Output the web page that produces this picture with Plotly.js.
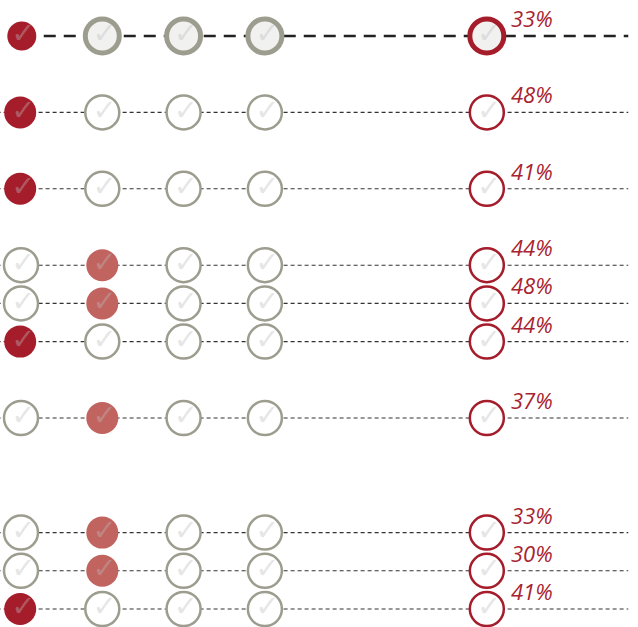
<!DOCTYPE html>
<html><head><meta charset="utf-8">
<script src="https://cdn.plot.ly/plotly-3.0.1.min.js"></script>
<style>html,body{margin:0;padding:0;background:#fff}#chart{width:638px;height:627px}</style>
</head><body><div id="chart"></div>
<script>
// Row positions (in row units, gaps included) and values
const rowY = [0, 2, 4, 6, 7, 8, 10, 13, 14, 15];
// which of the first two columns is selected (0 = first col dark, 1 = second col light)
const selected = [0, 0, 0, 1, 1, 0, 1, 1, 1, 0];
const pctLabels = ['33%', '48%', '41%', '44%', '48%', '44%', '37%', '33%', '30%', '41%'];
const colX = [0, 1, 2, 3, 5.73];

const DARK = '#a51c2b', LIGHT = '#c1635f', GREY = '#9d9d8f', TEXTRED = '#a8232f';

const traces = [];
// dashed lines
rowY.forEach((y, i) => {
  const top = i === 0;
  traces.push({
    type: 'scatter', mode: 'lines', hoverinfo: 'skip', showlegend: false,
    x: [top ? 0.28 : -0.3, 7.47], y: [y, y],
    line: {color: top ? '#222' : '#333', width: top ? 2.6 : 1.1, dash: top ? '12px,8px' : '4px,3px'}
  });
});

const dark = {x: [], y: [], s: []}, light = {x: [], y: [], s: []};
const grey = {x: [], y: [], w: [], f: []}, red = {x: [], y: [], w: [], f: []};
const checks = {x: [], y: []};
rowY.forEach((y, i) => {
  const top = i === 0;
  for (let c = 0; c < 4; c++) {
    checks.x.push(colX[c]); checks.y.push(y);
    if (c === 0 && selected[i] === 0) { dark.x.push(colX[c] + (top ? 0.01 : -0.01)); dark.y.push(y); dark.s.push(top ? 29 : 32); }
    else if (c === 1 && selected[i] === 1) { light.x.push(colX[c]); light.y.push(y); light.s.push(32); }
    else { grey.x.push(colX[c]); grey.y.push(y); grey.w.push(top ? 5 : 2.5); grey.f.push(top ? '#f1f1f0' : '#ffffff'); }
  }
  checks.x.push(colX[4]); checks.y.push(y);
  red.x.push(colX[4]); red.y.push(y); red.w.push(top ? 5 : 2.5); red.f.push(top ? '#f1f1f0' : '#ffffff');
});

traces.push({type: 'scatter', mode: 'markers', hoverinfo: 'skip', showlegend: false, x: grey.x, y: grey.y,
  marker: {size: 34, opacity: 1, color: grey.f, line: {color: GREY, width: grey.w}}});
traces.push({type: 'scatter', mode: 'markers', hoverinfo: 'skip', showlegend: false, x: red.x, y: red.y,
  marker: {size: 34, opacity: 1, color: red.f, line: {color: DARK, width: red.w}}});
traces.push({type: 'scatter', mode: 'markers', hoverinfo: 'skip', showlegend: false, x: dark.x, y: dark.y,
  marker: {size: dark.s, opacity: 1, color: DARK, line: {width: 0}}});
traces.push({type: 'scatter', mode: 'markers', hoverinfo: 'skip', showlegend: false, x: light.x, y: light.y,
  marker: {size: light.s, opacity: 1, color: LIGHT, line: {width: 0}}});
// faint check marks
traces.push({type: 'scatter', mode: 'text', hoverinfo: 'skip', showlegend: false,
  x: checks.x.map(v => v + 0.03), y: checks.y, text: checks.x.map(() => '✓'),
  textposition: 'middle center',
  textfont: {family: 'DejaVu Sans', size: 29, color: 'rgba(190,190,190,0.38)'}});

const annotations = rowY.map((y, i) => ({
  x: colX[4], y: y, xref: 'x', yref: 'y', text: '<i>' + pctLabels[i] + '</i>', showarrow: false,
  xanchor: 'left', yanchor: 'middle', xshift: 22, yshift: 18,
  font: {family: 'Open Sans', size: 22, color: TEXTRED}
}));

const layout = {
  width: 638, height: 627, margin: {l: 0, r: 0, t: 0, b: 0},
  paper_bgcolor: '#fff', plot_bgcolor: '#fff',
  xaxis: {range: [-0.2583, 7.5897], visible: false, fixedrange: true},
  yaxis: {range: [15.471, -0.942], visible: false, fixedrange: true},
  annotations: annotations, showlegend: false
};
Plotly.newPlot('chart', traces, layout, {displayModeBar: false, staticPlot: true});
</script></body></html>
